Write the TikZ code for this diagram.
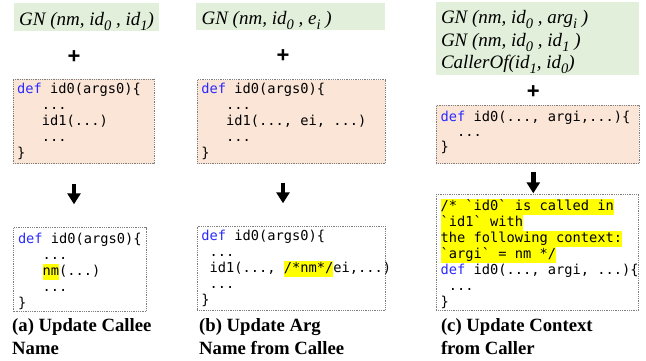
\documentclass[tikz,border=0pt]{standalone}
\usepackage{fontspec}
\setmainfont{Liberation Serif}
\setsansfont{Liberation Sans}
\setmonofont{DejaVu Sans Mono}
\usetikzlibrary{arrows.meta}
\definecolor{gbg}{HTML}{E2EFDA}
\definecolor{pbg}{HTML}{FBE5D6}
\definecolor{hly}{HTML}{FFFF00}
\definecolor{kw}{HTML}{2B2BFF}
\definecolor{bd}{HTML}{7F7F7F}
\newcommand\kwd{\textcolor{kw}{def}}
\newcommand\hl[1]{{\setlength{\fboxsep}{0pt}\colorbox{hly}{\rule[-4pt]{0pt}{16pt}#1}}}
\newcommand\fst{\rule{0pt}{12pt}}
\newcommand\ind[1]{\hphantom{#1}}
\newcommand\sbx[1]{\raisebox{-5pt}{\fontsize{14.5}{14.5}\selectfont #1}}
\newcommand\gst{\rule{0pt}{16pt}}
\newcommand\cst{\rule{0pt}{17pt}}
\tikzset{
  gbox/.style={fill=gbg, draw=none, inner sep=0pt, anchor=north west},
  cbox/.style={fill=pbg, draw=bd, densely dotted, line width=0.8pt, inner sep=0pt, anchor=north west},
  rbox/.style={fill=white, draw=bd, densely dotted, line width=0.8pt, inner sep=0pt, anchor=north west},
  gtext/.style={anchor=north west, inner sep=0pt, align=left, font=\itshape\fontsize{19}{22.5}\selectfont},
  ctext/.style={anchor=north west, inner sep=0pt, align=left, font=\ttfamily\fontsize{13.7}{16}\selectfont\frenchspacing},
  captext/.style={anchor=north west, inner sep=0pt, align=left, font=\bfseries\fontsize{18.7}{22.6}\selectfont},
  plussign/.style={font=\sffamily\bfseries\fontsize{22}{22}\selectfont, inner sep=0pt},
  bigarrow/.style={line width=4.5pt, -{Triangle[width=13pt,length=11pt]}}
}
\begin{document}
\begin{tikzpicture}[x=1pt,y=-1pt]
\useasboundingbox (0,0) rectangle (646,360);

% ---------- panel (a) ----------
\node[gbox, minimum width=145pt, minimum height=28pt] (gA) at (14,2.7) {};
\node[gtext] (gAt) at (19,9) {\gst GN (nm, id\sbx{0} , id\sbx{1})};
\node[plussign] (pA) at (74,56.7) {+};
\node[cbox, minimum width=141pt, minimum height=84.3pt] (cA) at (12.5,79) {};
\node[ctext] (cAt) at (17,81.5) {\fst\kwd{} id0(args0)\{\\
\ind{xxx}...\\
\ind{xxx}id1(...)\\
\ind{xxx}...\\
\}};
\node[rbox, minimum width=132.4pt, minimum height=83.7pt] (rA) at (13.3,227.3) {};
\node[ctext] (rAt) at (17.8,231.3) {\fst\kwd{} id0(args0)\{\\
\ind{xxx}...\\
\ind{xxx}\hl{nm}(...)\\
\ind{xxx}...\\
\}};
\draw[bigarrow, shorten <=20pt, shorten >=23pt] (pA |- cA.south) -- (pA |- rA.north);
\node[captext] (capA) at (12,314.7) {\cst(a) Update Callee\\Name};

% ---------- panel (b) ----------
\node[gbox, minimum width=189pt, minimum height=27.7pt] (gB) at (196,2.3) {};
\node[gtext] (gBt) at (201.4,8) {\gst GN (nm, id\sbx{0} , e\sbx{i} )};
\node[plussign] (pB) at (283,56) {+};
\node[cbox, minimum width=188.3pt, minimum height=84pt] (cB) at (196.7,79.3) {};
\node[ctext] (cBt) at (201.2,81.5) {\fst\kwd{} id0(args0)\{\\
\ind{xxx}...\\
\ind{xxx}id1(..., ei, ...)\\
\ind{xxx}...\\
\}};
\node[rbox, minimum width=188pt, minimum height=84.3pt] (rB) at (196.7,225.7) {};
\node[ctext] (rBt) at (201.2,228.7) {\fst\kwd{} id0(args0)\{\\
\ind{x}...\\
\ind{x}id1(..., \hl{/*nm*/}ei,...)\\
\ind{x}...\\
\}};
\draw[bigarrow, shorten <=18.4pt, shorten >=22.4pt] (pB |- cB.south) -- (pB |- rB.north);
\node[captext] (capB) at (199,314.7) {\cst(b) Update Arg\\Name from Callee};

% ---------- panel (c) ----------
\node[gbox, minimum width=202.3pt, minimum height=73.3pt] (gC) at (436,1.7) {};
\node[gtext] (gCt) at (440.8,7.3) {\gst GN (nm, id\sbx{0} , arg\sbx{i} )\\
GN (nm, id\sbx{0} , id\sbx{1} )\\
CallerOf(id\sbx{1}, id\sbx{0})};
\node[plussign] (pC) at (533.3,92.3) {+};
\node[cbox, minimum width=202.7pt, minimum height=58.3pt] (cC) at (436,105) {};
\node[ctext, font=\ttfamily\fontsize{13.7}{15}\selectfont\frenchspacing] (cCt) at (440.5,109.7) {\fst\kwd{} id0(..., argi,...)\{\\
\ind{xx}...\\
\}};
\node[rbox, minimum width=202.3pt, minimum height=116pt] (rC) at (436,194) {};
\node[ctext] (rCt) at (440.5,198.3) {\hl{/* `id0` is called in}\\
\hl{`id1` with}\\
\hl{the following context:}\\
\hl{`argi` = nm */}\\
\kwd{} id0(..., argi, ...)\{\\
\ind{x}...\\
\}};
\draw[bigarrow, shorten <=7.7pt, shorten >=0.7pt] (pC |- cC.south) -- (pC |- rC.north);
\node[captext] (capC) at (440.8,314.7) {\cst(c) Update Context\\from Caller};
\end{tikzpicture}
\end{document}
